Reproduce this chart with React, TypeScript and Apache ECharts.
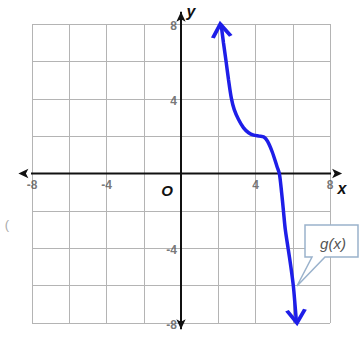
import { useEffect, useRef } from "react";
import * as echarts from "echarts";

const xTickLabels = [-8, -4, 4, 8];
const yTickLabels = [-8, -4, 4, 8];
const curveX = [2.15, 2.28, 2.42, 2.55, 2.7, 2.86, 3.09, 3.36, 3.63, 3.9, 4.2, 4.45, 4.65, 4.9, 5.15, 5.28, 5.4, 5.5, 5.6, 5.75, 5.9, 6.03, 6.12, 6.2];
const curveY = [8.0, 7.0, 6.0, 5.03, 4.05, 3.42, 2.89, 2.44, 2.18, 2.05, 2.0, 1.95, 1.72, 1.15, 0.39, 0, -1.0, -2.0, -3.0, -4.0, -5.0, -6.0, -7.0, -8.0];
const xAxisExtent = [-8.73, 8.65];
const yAxisExtent = [-8.34, 8.66];
const curveLabel = "g(x)";

const BLUE = "#1e1ee8";
const CHEVRON = "path://M0,14 L9,0 L18,14";
const TICK_FONT = "Liberation Sans, Arial, sans-serif";

export default function App() {
  const ref = useRef<HTMLDivElement>(null);
  useEffect(() => {
    document.body.style.margin = "0";
    if (!ref.current) return;
    const chart = echarts.init(ref.current, undefined, { renderer: "svg" });
    const n = curveX.length;
    const curveData = curveX.map((x, i) => {
      const item: any = { value: [x, curveY[i]] };
      if (i === 0 || i === n - 1) {
        const top = i === 0;
        item.symbol = CHEVRON;
        item.symbolSize = [18, 13];
        item.symbolRotate = top ? 7 : 184.6;
        item.symbolOffset = top ? [0, 6.5] : [0, -6.5];
        item.itemStyle = { color: "none", borderColor: BLUE, borderWidth: 3.5 };
      }
      return item;
    });
    const tickLabelStyle = {
      show: true,
      color: "#555",
      fontSize: 12,
      fontWeight: "bold",
      fontFamily: TICK_FONT,
    };
    const axisCommon = {
      type: "value",
      min: -8,
      max: 8,
      interval: 2,
      axisLine: { show: false },
      axisTick: { show: false },
      axisLabel: { show: false },
      splitLine: { show: true, lineStyle: { color: "#b4b4b4", width: 1 } },
    };
    chart.setOption({
      animation: false,
      backgroundColor: "#fff",
      grid: { left: 32, top: 24, width: 298, height: 299 },
      xAxis: axisCommon,
      yAxis: axisCommon,
      series: [
        {
          type: "line",
          clip: false,
          silent: true,
          symbol: "arrow",
          symbolSize: [7, 10],
          lineStyle: { color: "#111", width: 2 },
          itemStyle: { color: "#111" },
          data: [
            { value: [xAxisExtent[0], 0], symbolRotate: 90 },
            { value: [xAxisExtent[1], 0], symbolRotate: -90 },
          ],
          z: 2,
        },
        {
          type: "line",
          clip: false,
          silent: true,
          symbol: "arrow",
          symbolSize: [7, 10],
          lineStyle: { color: "#111", width: 2 },
          itemStyle: { color: "#111" },
          data: [
            { value: [0, yAxisExtent[0]], symbolRotate: 180 },
            { value: [0, yAxisExtent[1]], symbolRotate: 0 },
          ],
          z: 2,
        },
        {
          type: "scatter",
          silent: true,
          symbolSize: 0,
          clip: false,
          label: {
            ...tickLabelStyle,
            position: "bottom",
            distance: 5,
            formatter: (p: any) => String(p.value[0]),
          },
          data: xTickLabels.map((v) => [v, 0]),
          z: 3,
        },
        {
          type: "scatter",
          silent: true,
          symbolSize: 0,
          clip: false,
          label: {
            ...tickLabelStyle,
            position: "left",
            distance: 4,
            offset: [0, 2],
            formatter: (p: any) => String(p.value[1]),
          },
          data: yTickLabels.map((v) => [0, v]),
          z: 3,
        },
        {
          type: "line",
          clip: false,
          silent: true,
          smooth: 0.3,
          symbol: "none",
          showSymbol: true,
          lineStyle: { color: BLUE, width: 3.5 },
          itemStyle: { color: BLUE },
          data: curveData,
          z: 5,
        },
      ],
      graphic: [
        {
          type: "text",
          x: 167,
          y: 190,
          style: {
            text: "O",
            font: "italic bold 15px 'Liberation Sans', Arial, sans-serif",
            fill: "#111",
            align: "center",
            verticalAlign: "middle",
          },
        },
        {
          type: "text",
          x: 342,
          y: 188,
          style: {
            text: "x",
            font: "italic bold 16px 'Liberation Sans', Arial, sans-serif",
            fill: "#111",
            align: "center",
            verticalAlign: "middle",
          },
        },
        {
          type: "text",
          x: 191,
          y: 11,
          style: {
            text: "y",
            font: "italic bold 16px 'Liberation Sans', Arial, sans-serif",
            fill: "#111",
            align: "center",
            verticalAlign: "middle",
          },
        },
        {
          type: "text",
          x: 7,
          y: 224,
          style: {
            text: "(",
            font: "13px 'Liberation Sans', Arial, sans-serif",
            fill: "#aaa",
            align: "center",
            verticalAlign: "middle",
          },
        },
        {
          type: "polygon",
          z: 10,
          shape: {
            points: [
              [305, 225],
              [358, 225],
              [358, 257],
              [325, 257],
              [297, 286],
              [312, 257],
              [305, 257],
            ],
          },
          style: { fill: "#fff", stroke: "#9ab2cc", lineWidth: 1.5 },
        },
        {
          type: "text",
          z: 11,
          x: 333,
          y: 243,
          style: {
            text: curveLabel,
            font: "italic 15px 'Liberation Sans', Arial, sans-serif",
            fill: "#555",
            align: "center",
            verticalAlign: "middle",
          },
        },
      ],
    });
    return () => chart.dispose();
  }, []);
  return <div ref={ref} style={{ width: 361, height: 340 }} />;
}
